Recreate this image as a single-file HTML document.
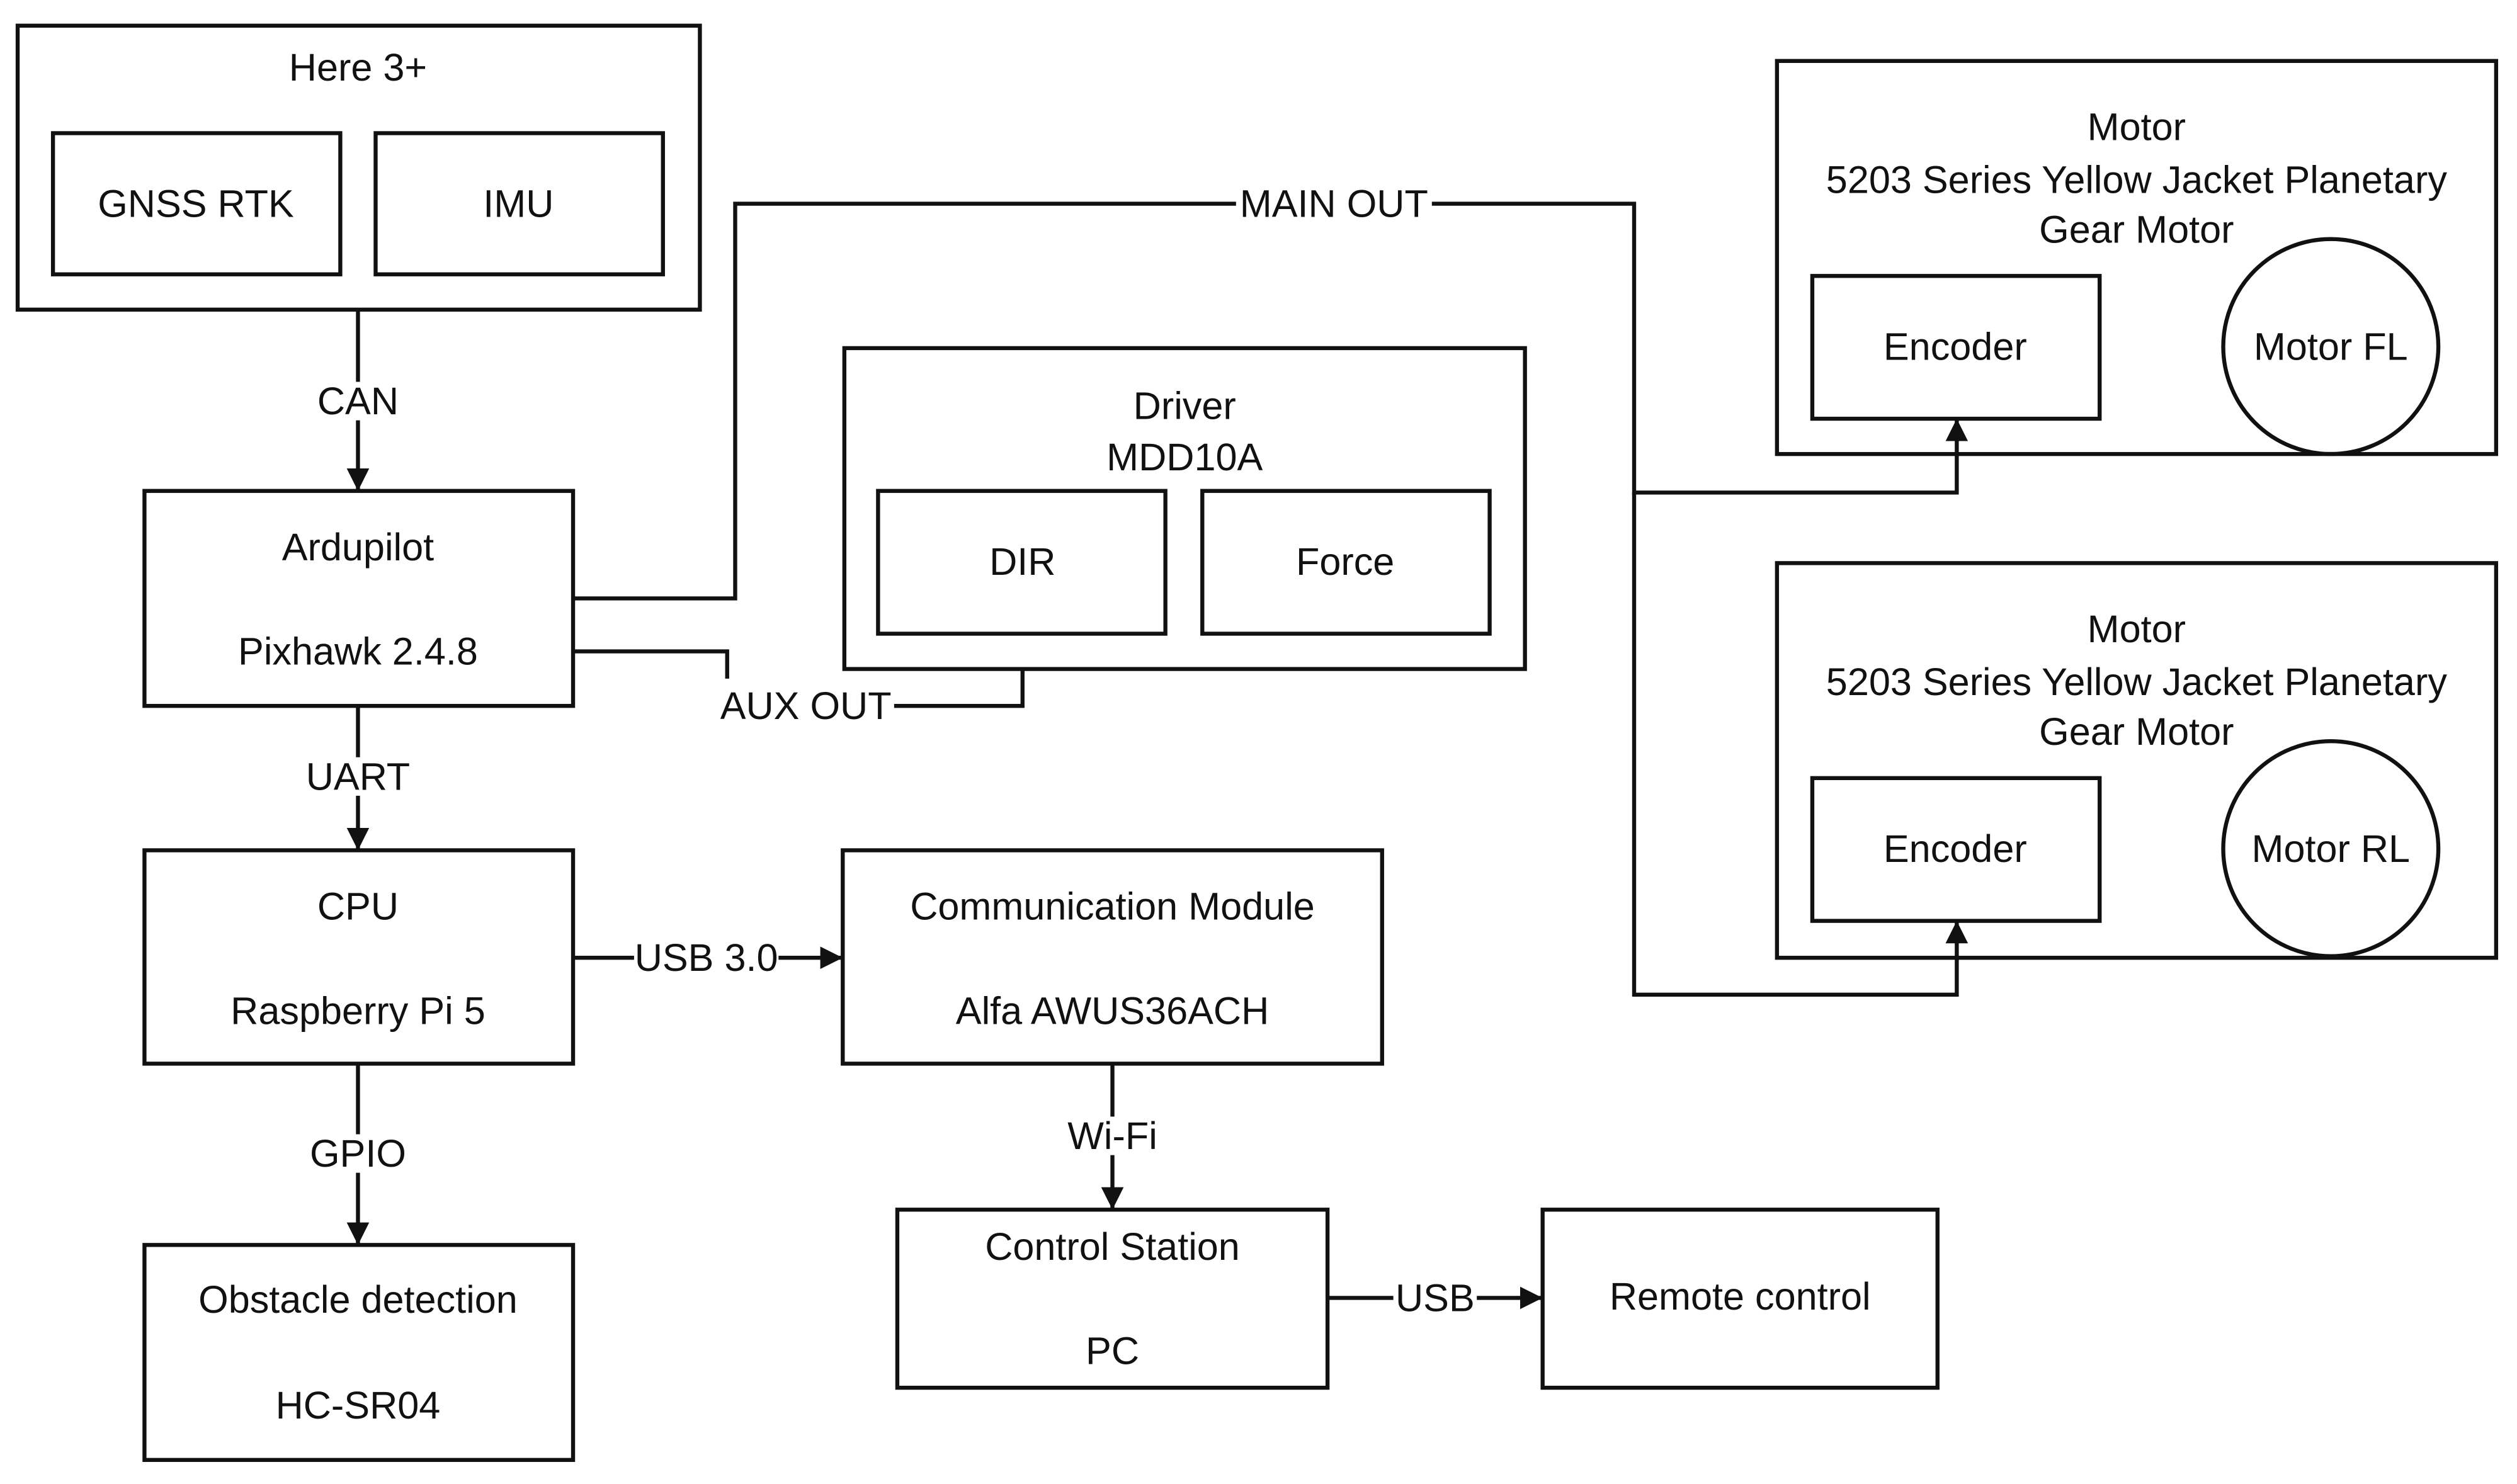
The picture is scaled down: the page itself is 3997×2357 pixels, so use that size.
<!DOCTYPE html>
<html><head><meta charset="utf-8"><style>
html,body{margin:0;padding:0;background:#fff;}
svg{display:block;}
text{font-family:"Liberation Sans",sans-serif;font-size:24px;fill:#111;text-anchor:middle;dominant-baseline:central;}
</style></head><body>
<svg width="3997" height="2357" viewBox="0 0 1568 925" preserveAspectRatio="none" xmlns="http://www.w3.org/2000/svg">
<defs><marker id="a" markerWidth="14" markerHeight="14" refX="13" refY="7" orient="auto" markerUnits="userSpaceOnUse"><path d="M0,0 L14,7 L0,14 Z" fill="#111"/></marker></defs>
<g fill="none" stroke="#111" stroke-width="2.5">
<rect x="11" y="16" width="425" height="177"/>
<rect x="33" y="83" width="179" height="88"/>
<rect x="234" y="83" width="179" height="88"/>
<rect x="90" y="306" width="267" height="134"/>
<rect x="90" y="530" width="267" height="133"/>
<rect x="90" y="776" width="267" height="134"/>
<rect x="525" y="530" width="336" height="133"/>
<rect x="559" y="754" width="268" height="111"/>
<rect x="961" y="754" width="246" height="111"/>
<rect x="526" y="217" width="424" height="200"/>
<rect x="547" y="306" width="179" height="89"/>
<rect x="749" y="306" width="179" height="89"/>
<rect x="1107" y="38" width="448" height="245"/>
<rect x="1129" y="172" width="179" height="89"/>
<circle cx="1452" cy="216" r="67"/>
<rect x="1107" y="351" width="448" height="246"/>
<rect x="1129" y="485" width="179" height="89"/>
<circle cx="1452" cy="529" r="67"/>
<line x1="223" y1="193" x2="223" y2="305" marker-end="url(#a)"/>
<line x1="223" y1="440" x2="223" y2="529" marker-end="url(#a)"/>
<line x1="223" y1="663" x2="223" y2="775" marker-end="url(#a)"/>
<line x1="357" y1="597" x2="524" y2="597" marker-end="url(#a)"/>
<line x1="693" y1="663" x2="693" y2="753" marker-end="url(#a)"/>
<line x1="827" y1="809" x2="960" y2="809" marker-end="url(#a)"/>
<polyline points="357,373 458,373 458,127 1018,127 1018,307 1219,307 1219,262" marker-end="url(#a)"/>
<polyline points="1018,307 1018,620 1219,620 1219,575" marker-end="url(#a)"/>
<polyline points="357,406 453,406 453,423"/>
<polyline points="557,440 637,440 637,417"/>
</g>
<g>
<rect x="198" y="238" width="50" height="24" fill="#fff"/>
<rect x="190" y="472" width="66" height="24" fill="#fff"/>
<rect x="190" y="707" width="66" height="24" fill="#fff"/>
<rect x="395" y="585" width="90" height="24" fill="#fff"/>
<rect x="663" y="696" width="60" height="24" fill="#fff"/>
<rect x="868" y="797" width="52" height="24" fill="#fff"/>
<rect x="770" y="115" width="122" height="24" fill="#fff"/>
</g>
<text x="223" y="42">Here 3+</text>
<text x="122" y="127">GNSS RTK</text>
<text x="323" y="127">IMU</text>
<text x="223" y="250">CAN</text>
<text x="223" y="341">Ardupilot</text>
<text x="223" y="406">Pixhawk 2.4.8</text>
<text x="223" y="484">UART</text>
<text x="223" y="565">CPU</text>
<text x="223" y="630">Raspberry Pi 5</text>
<text x="223" y="719">GPIO</text>
<text x="223" y="810">Obstacle detection</text>
<text x="223" y="876">HC-SR04</text>
<text x="693" y="565">Communication Module</text>
<text x="693" y="630">Alfa AWUS36ACH</text>
<text x="440" y="597">USB 3.0</text>
<text x="693" y="708">Wi-Fi</text>
<text x="693" y="777">Control Station</text>
<text x="693" y="842">PC</text>
<text x="894" y="809">USB</text>
<text x="1084" y="808">Remote control</text>
<text x="738" y="253">Driver</text>
<text x="738" y="285">MDD10A</text>
<text x="637" y="350">DIR</text>
<text x="838" y="350">Force</text>
<text x="831" y="127">MAIN OUT</text>
<text x="502" y="440">AUX OUT</text>
<text x="1331" y="79">Motor</text>
<text x="1331" y="112">5203 Series Yellow Jacket Planetary</text>
<text x="1331" y="143">Gear Motor</text>
<text x="1218" y="216">Encoder</text>
<text x="1452" y="216">Motor FL</text>
<text x="1331" y="392">Motor</text>
<text x="1331" y="425">5203 Series Yellow Jacket Planetary</text>
<text x="1331" y="456">Gear Motor</text>
<text x="1218" y="529">Encoder</text>
<text x="1452" y="529">Motor RL</text>
</svg>
</body></html>
